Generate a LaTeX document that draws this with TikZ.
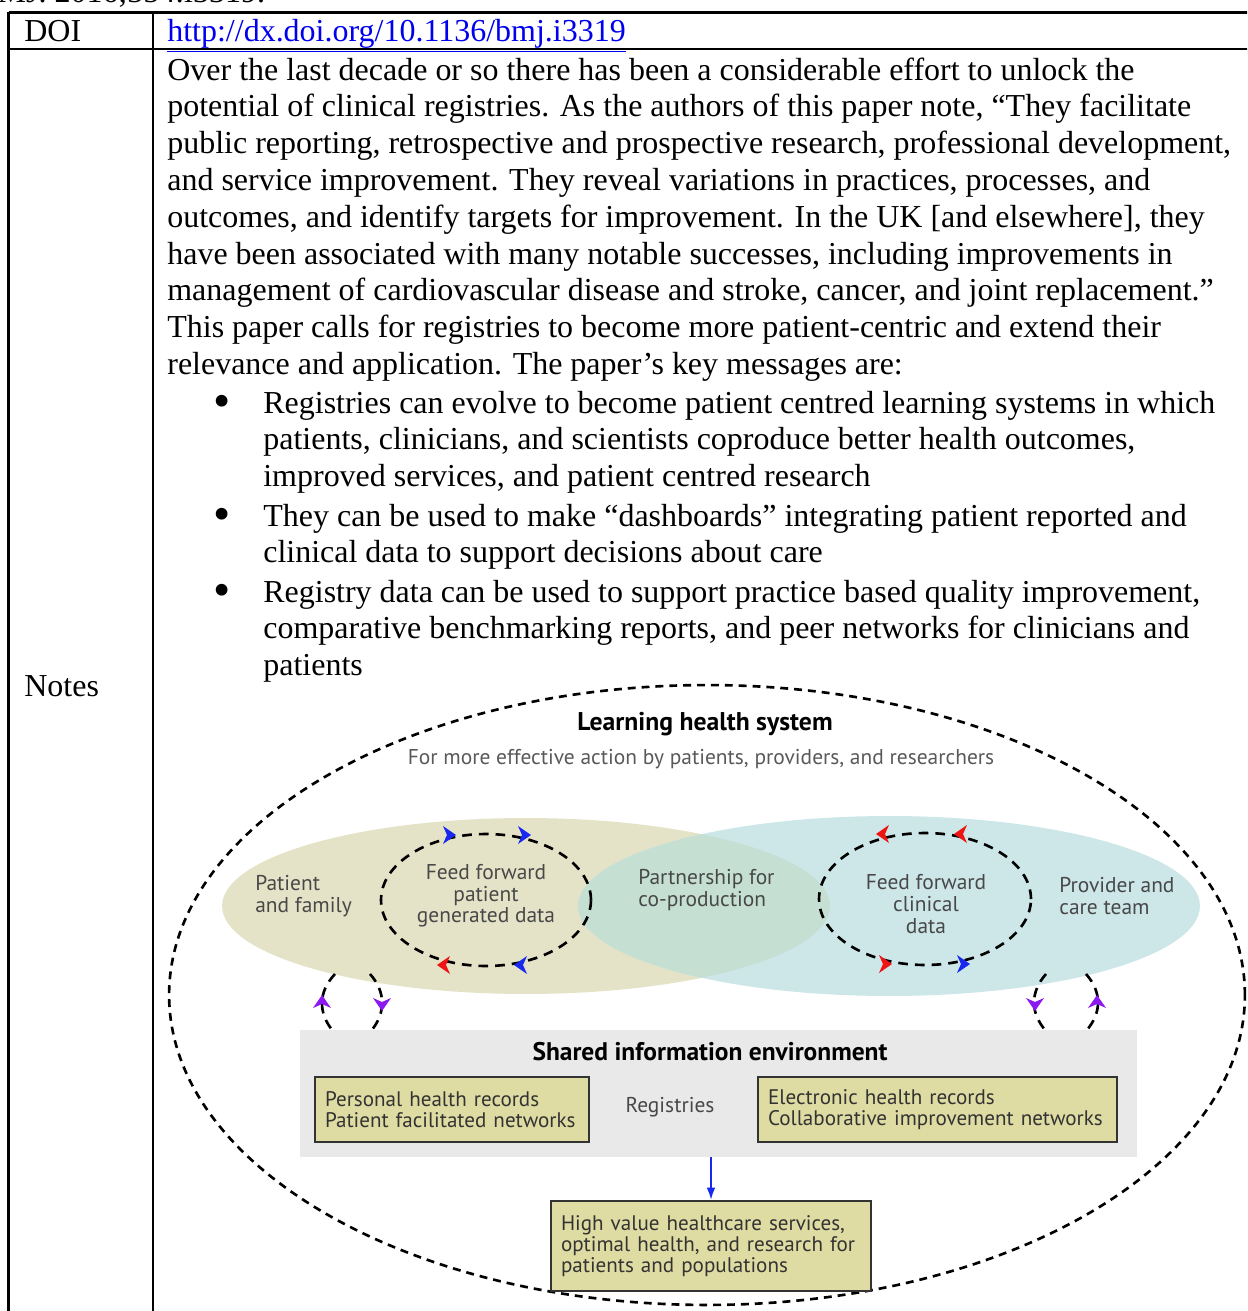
\documentclass[tikz,border=0pt]{standalone}
\usepackage{fontspec}
\setmainfont{Liberation Serif}
\newfontfamily\figfont{PT Sans}
\usepackage{xcolor}
\usetikzlibrary{arrows.meta,shapes.geometric,positioning,calc}
\definecolor{linkblue}{RGB}{0,0,238}
\definecolor{patientfill}{RGB}{229,227,199}
\definecolor{providerfill}{RGB}{205,230,232}
\definecolor{overlapfill}{RGB}{197,223,211}
\definecolor{sharedgray}{RGB}{233,233,233}
\definecolor{recordfill}{RGB}{222,220,162}
\definecolor{figtext}{RGB}{72,72,72}
\definecolor{loopred}{RGB}{238,20,20}
\definecolor{loopblue}{RGB}{25,40,238}
\definecolor{looppurple}{RGB}{140,25,240}

% chevron tip on the feedback loops: x, y, angle, colour
\newcommand{\looptip}[4]{\fill[#4, shift={(#1,#2)}, rotate=#3] (8,0) -- (-5,9) -- (-1,0) -- (-5,-9) -- cycle;}

\begin{document}
\begin{tikzpicture}[x=0.02cm, y=-0.02cm,
    every node/.style={inner sep=0pt},
    tablerule/.style={line width=1.15pt},
    bodytext/.style={anchor=base west, align=left, font=\fontsize{18.2}{20.94}\selectfont},
    bulletmark/.style={anchor=base, font=\fontsize{28}{28}\selectfont},
    figlabel/.style={font=\figfont\fontsize{12.2}{12.3}\selectfont, text=figtext, align=left},
    loopdash/.style={line width=1.5pt, dash pattern=on 5.5pt off 4pt},
    bigdash/.style={line width=1.5pt, dash pattern=on 4.5pt off 3.4pt},
    recordbox/.style={draw=black!80, line width=1.3pt, fill=recordfill, align=left, inner xsep=0.2cm,
        font=\figfont\fontsize{12}{11.9}\selectfont, text=black!80}]
    \useasboundingbox (0,0) rectangle (1247,1311);
    \clip (0,0) rectangle (1247,1311);

    % Table
    \node[bodytext] (cite) at (-24,3) {BMJ. 2016;354:i3319.};
    \draw[tablerule] (8.5,12.5) -- (1260,12.5);
    \draw[tablerule] (8.5,49) -- (1260,49);
    \draw[tablerule] (8.5,12) -- (8.5,1320);
    \draw[tablerule] (153,12) -- (153,1320);

    \node[bodytext] (doi) at (24,41.5) {DOI};
    \node[bodytext, text=linkblue] (link) at (167,41.5) {\underline{http://dx.doi.org/10.1136/bmj.i3319}};
    \node[bodytext] (notes) at (24,696.5) {Notes};

    % Notes text (anchored on the last line)
    \node[bodytext] (intro) at (167,374.4) {Over the last decade or so there has been a considerable effort to unlock the\\
        potential of clinical registries. As the authors of this paper note, “They facilitate\\
        public reporting, retrospective and prospective research, professional development,\\
        and service improvement. They reveal variations in practices, processes, and\\
        outcomes, and identify targets for improvement. In the UK [and elsewhere], they\\
        have been associated with many notable successes, including improvements in\\
        management of cardiovascular disease and stroke, cancer, and joint replacement.”\\
        This paper calls for registries to become more patient-centric and extend their\\
        relevance and application. The paper’s key messages are:};

    \node[bulletmark] (dot1) at (222,417) {•};
    \node[bodytext] (msg1) at (263,486.6) {Registries can evolve to become patient centred learning systems in which\\
        patients, clinicians, and scientists coproduce better health outcomes,\\
        improved services, and patient centred research};
    \node[bulletmark] (dot2) at (222,530) {•};
    \node[bodytext] (msg2) at (263,562.8) {They can be used to make “dashboards” integrating patient reported and\\
        clinical data to support decisions about care};
    \node[bulletmark] (dot3) at (222,606) {•};
    \node[bodytext] (msg3) at (263,675.6) {Registry data can be used to support practice based quality improvement,\\
        comparative benchmarking reports, and peer networks for clinicians and\\
        patients};

    % Learning health system figure
    \draw[bigdash] (707,995) ellipse [x radius=10.76cm, y radius=6.2cm];
    \node[font=\figfont\bfseries\fontsize{14.6}{16}\selectfont] (lhs) at (705,724) {Learning health system};
    \node[figlabel, text=black!65] (lhssub) at (701,759) {For more effective action by patients, providers, and researchers};

    \node[ellipse, fill=patientfill, minimum width=12.16cm, minimum height=3.52cm] (patient) at (526,906) {};
    \node[ellipse, fill=providerfill, minimum width=12.44cm, minimum height=3.6cm] (provider) at (889,906) {};
    \begin{scope}
        \clip (526,906) ellipse [x radius=6.08cm, y radius=1.76cm];
        \fill[overlapfill] (889,906) ellipse [x radius=6.22cm, y radius=1.8cm];
    \end{scope}

    \node[figlabel, anchor=west] (family) at (255,896) {Patient\\and family};
    \node[figlabel, align=center] (ffpatient) at (486,896) {Feed forward\\patient\\generated data};
    \node[figlabel, anchor=west] (partner) at (638,890) {Partnership for\\co-production};
    \node[figlabel, align=center] (ffclinical) at (926,904) {Feed forward\\clinical\\data};
    \node[figlabel, anchor=west] (careteam) at (1059,896) {Provider and\\care team};

    % feedback loops
    \draw[loopdash] (486,900) ellipse [x radius=2.1cm, y radius=1.32cm];
    \draw[loopdash] (925,899) ellipse [x radius=2.12cm, y radius=1.32cm];
    \looptip{448}{835}{0}{loopblue}
    \looptip{523}{835}{0}{loopblue}
    \looptip{445}{965}{180}{loopred}
    \looptip{522}{965}{180}{loopblue}
    \looptip{884}{834}{180}{loopred}
    \looptip{962}{834}{180}{loopred}
    \looptip{884}{964}{0}{loopred}
    \looptip{962}{964}{0}{loopblue}

    % Shared information environment
    \node[fill=sharedgray, minimum width=16.74cm, minimum height=2.54cm] (shared) at (718.5,1093.5) {};
    \node[font=\figfont\bfseries\fontsize{14.5}{16}\selectfont] (sharedtitle) at (710,1052) {Shared information environment};
    \node[recordbox, text width=5.08cm, minimum height=1.3cm] (phr) at (452,1109.5) {Personal health records\\Patient facilitated networks};
    \node[figlabel] (registries) at (670,1107) {Registries};
    \node[recordbox, text width=6.78cm, minimum height=1.3cm] (ehr) at (937.5,1109.5) {Electronic health records\\Collaborative improvement networks};
    \node[recordbox, text width=6.0cm, minimum height=1.8cm] (outcome) at (711,1246) {High value healthcare services,\\optimal health, and research for\\patients and populations};

    % links between the circles and the shared environment
    \coordinate (pup1) at (335,974);  \coordinate (pup2) at (333,1031);
    \coordinate (pdn1) at (370,974);  \coordinate (pdn2) at (371,1031);
    \coordinate (cdn1) at (1046,974); \coordinate (cdn2) at (1046,1031);
    \coordinate (cup1) at (1086,974); \coordinate (cup2) at (1086,1031);
    \draw[loopdash] (pup1) .. controls (318,992) and (318,1013) .. (pup2);
    \draw[loopdash] (pdn1) .. controls (386,992) and (386,1013) .. (pdn2);
    \draw[loopdash] (cdn1) .. controls (1030,992) and (1030,1013) .. (cdn2);
    \draw[loopdash] (cup1) .. controls (1102,992) and (1102,1013) .. (cup2);
    \looptip{322}{1003}{90}{looppurple}
    \looptip{382}{1003}{270}{looppurple}
    \looptip{1035}{1003}{270}{looppurple}
    \looptip{1097}{1003}{90}{looppurple}

    \draw[-{Latex[length=7pt,width=5pt]}, line width=1pt, loopblue] (outcome.north |- shared.south) -- (outcome.north);
\end{tikzpicture}
\end{document}
